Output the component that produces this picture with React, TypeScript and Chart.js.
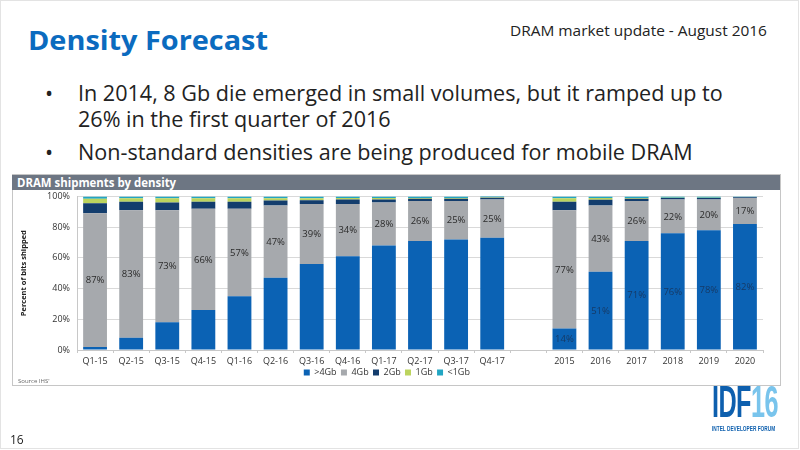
import React, { useEffect, useRef } from 'react';
import { Chart, registerables } from 'chart.js';

Chart.register(...registerables);

// ---- data ----
const categories = ['Q1-15', 'Q2-15', 'Q3-15', 'Q4-15', 'Q1-16', 'Q2-16', 'Q3-16', 'Q4-16', 'Q1-17', 'Q2-17', 'Q3-17', 'Q4-17', '', '2015', '2016', '2017', '2018', '2019', '2020'];
const over4Gb = [2, 8, 18, 26, 35, 47, 56, 61, 68, 71, 72, 73, null, 14, 51, 71, 76, 78, 82];
const gb4 = [87, 83, 73, 66, 57, 47, 39, 34, 28, 26, 25, 25, null, 77, 43, 26, 22, 20, 17];
const gb2 = [6.5, 5.5, 5, 4.5, 4.5, 3.3, 2.5, 3, 2, 1.5, 1.5, 1.2, null, 5.5, 3.8, 1.5, 1, 1, 0.4];
const gb1 = [3, 2.3, 2.8, 2.3, 2.3, 1.5, 1.3, 1, 1, 0.5, 0.5, 0.2, null, 2.3, 1.2, 0.5, 0.2, 0.2, 0];
const under1Gb = [1.5, 1.2, 1.2, 1.2, 1.2, 1.2, 1.2, 1, 1, 1, 1, 0.8, null, 1.2, 1, 1, 0.8, 0.8, 0.6];
const seriesNames = ['>4Gb', '4Gb', '2Gb', '1Gb', '<1Gb'];
const seriesColors = ['#0b62b4', '#a6a9ad', '#133d6d', '#bcd45e', '#22a6c3'];
const yTickValues = [0, 20, 40, 60, 80, 100];

const FONT = '"Open Sans", "Noto Sans", sans-serif';
const NARROW = '"Liberation Sans Narrow", "Liberation Sans", sans-serif';

const segmentLabels = {
  id: 'segmentLabels',
  afterDatasetsDraw(chart: any) {
    const ctx = chart.ctx;
    ctx.save();
    ctx.font = '9.5px ' + FONT;
    ctx.textAlign = 'center';
    ctx.textBaseline = 'middle';
    [0, 1].forEach((di) => {
      const meta = chart.getDatasetMeta(di);
      const ds = chart.data.datasets[di];
      meta.data.forEach((bar: any, i: number) => {
        const v = ds.data[i];
        if (v == null) return;
        if (di === 0 && !/^\d{4}$/.test(categories[i])) return;
        const p = bar.getProps(['x', 'y', 'base'], true);
        ctx.fillStyle = di === 0 ? '#163a66' : '#2b2b2b';
        ctx.fillText(v + '%', p.x, (p.y + p.base) / 2 + 0.5);
      });
    });
    ctx.restore();
  },
};

function DensityChart() {
  const ref = useRef<HTMLCanvasElement | null>(null);
  useEffect(() => {
    if (!ref.current) return;
    const seriesData = [over4Gb, gb4, gb2, gb1, under1Gb];
    const chart = new Chart(ref.current, {
      type: 'bar',
      data: {
        labels: categories,
        datasets: seriesNames.map((name, k) => ({
          label: name,
          data: seriesData[k],
          backgroundColor: seriesColors[k],
          borderWidth: 0,
          barPercentage: 0.66,
          categoryPercentage: 1,
        })),
      },
      options: {
        animation: false,
        responsive: false,
        maintainAspectRatio: false,
        layout: { padding: { left: 0, right: 16, top: 0, bottom: 0 } },
        plugins: {
          tooltip: { enabled: false },
          legend: {
            position: 'bottom',
            labels: {
              boxWidth: 6,
              boxHeight: 6,
              padding: 2,
              color: '#333',
              font: { size: 9, family: FONT },
              generateLabels: (chart: any) => {
                const items = Chart.defaults.plugins.legend.labels.generateLabels(chart);
                items.forEach((it: any) => { it.text = it.text + ' '; });
                return items;
              },
            },
          },
        },
        scales: {
          x: {
            stacked: true,
            afterFit: (scale: any) => { scale.height = 16; },
            grid: { display: true, drawOnChartArea: false, drawTicks: true, tickLength: 3, color: '#c8c8c8', offset: true },
            border: { display: true, color: '#c8c8c8' },
            ticks: { color: '#333', font: { size: 9, family: FONT }, padding: 3, autoSkip: false, maxRotation: 0 },
          },
          y: {
            stacked: true,
            min: 0,
            max: 100,
            afterFit: (scale: any) => { scale.width = 64; },
            afterBuildTicks: (scale: any) => { scale.ticks = yTickValues.map((v) => ({ value: v })); },
            grid: { color: '#d9d9d9', drawTicks: false },
            border: { display: true, color: '#c8c8c8' },
            ticks: { color: '#333', font: { size: 9, family: FONT }, padding: 7, callback: (v: any) => v + '%' },
            title: {
              display: true,
              text: 'Percent of bits shipped',
              color: '#222',
              font: { size: 7.5, weight: 'bold', family: FONT },
              padding: { top: 6, bottom: 0 },
            },
          },
        },
      },
      plugins: [segmentLabels],
    });
    return () => chart.destroy();
  }, []);
  return <canvas ref={ref} width={766} height={203} style={{ position: 'absolute', left: 13, top: 184, width: 766, height: 203 }} />;
}

export default function App() {
  const line: any = { position: 'absolute', fontSize: 21, lineHeight: '21px', whiteSpace: 'nowrap', transform: 'scaleX(1.027)', transformOrigin: 'left' };
  return (
    <div style={{ position: 'fixed', left: 0, top: 0, width: 800, height: 450, background: '#fff', overflow: 'hidden', fontFamily: FONT, color: '#222' }}>
      <div style={{ position: 'absolute', left: 0, top: 0, width: 797, height: 447, border: '1px solid #e3e3e3' }} />
      <div style={{ position: 'absolute', left: 28, top: 27, fontSize: 26, lineHeight: '26px', fontWeight: 700, color: '#0b6bbf', whiteSpace: 'nowrap', transform: 'scaleX(1.11)', transformOrigin: 'left' }}>Density Forecast</div>
      <div style={{ position: 'absolute', left: 510, top: 23, fontSize: 15, lineHeight: '15px', color: '#222', whiteSpace: 'nowrap', transform: 'scaleX(1.028)', transformOrigin: 'left' }}>DRAM market update - August 2016</div>
      <div style={{ ...line, left: 45, top: 83 }}>•</div>
      <div style={{ ...line, left: 78, top: 83 }}>In 2014, 8 Gb die emerged in small volumes, but it ramped up to</div>
      <div style={{ ...line, left: 78, top: 109 }}>26% in the first quarter of 2016</div>
      <div style={{ ...line, left: 45, top: 142 }}>•</div>
      <div style={{ ...line, left: 78, top: 142 }}>Non-standard densities are being produced for mobile DRAM</div>

      <div style={{ position: 'absolute', left: 12, top: 174, width: 767, height: 210, border: '1px solid #c6c6c6' }} />
      <div style={{ position: 'absolute', left: 12, top: 175, width: 768, height: 15, background: '#6d7683' }} />
      <div style={{ position: 'absolute', left: 17, top: 175, fontSize: 12, lineHeight: '15px', fontWeight: 700, color: '#fff', whiteSpace: 'nowrap', transform: 'scaleX(0.95)', transformOrigin: 'left' }}>DRAM shipments by density</div>
      <DensityChart />
      <div style={{ position: 'absolute', left: 18, top: 378, fontSize: 6, lineHeight: '6px', color: '#666', whiteSpace: 'nowrap' }}>Source IHS'</div>

      <div style={{ position: 'absolute', left: 10, top: 434, fontSize: 12, lineHeight: '12px', color: '#222' }}>16</div>

      <div style={{ position: 'absolute', left: 712, top: 379, fontFamily: NARROW, fontWeight: 700, fontSize: 45, lineHeight: '45px', whiteSpace: 'nowrap', transform: 'scaleX(0.56)', transformOrigin: 'left', letterSpacing: -1 }}>
        <span style={{ color: '#0d5fae' }}>IDF</span><span style={{ color: '#79c4ec' }}>16</span>
      </div>
      <div style={{ position: 'absolute', left: 712, top: 425, fontFamily: NARROW, fontWeight: 700, fontSize: 7, lineHeight: '7px', color: '#0d5fae', whiteSpace: 'nowrap', transform: 'scaleX(0.68)', transformOrigin: 'left' }}>INTEL DEVELOPER FORUM</div>
    </div>
  );
}
